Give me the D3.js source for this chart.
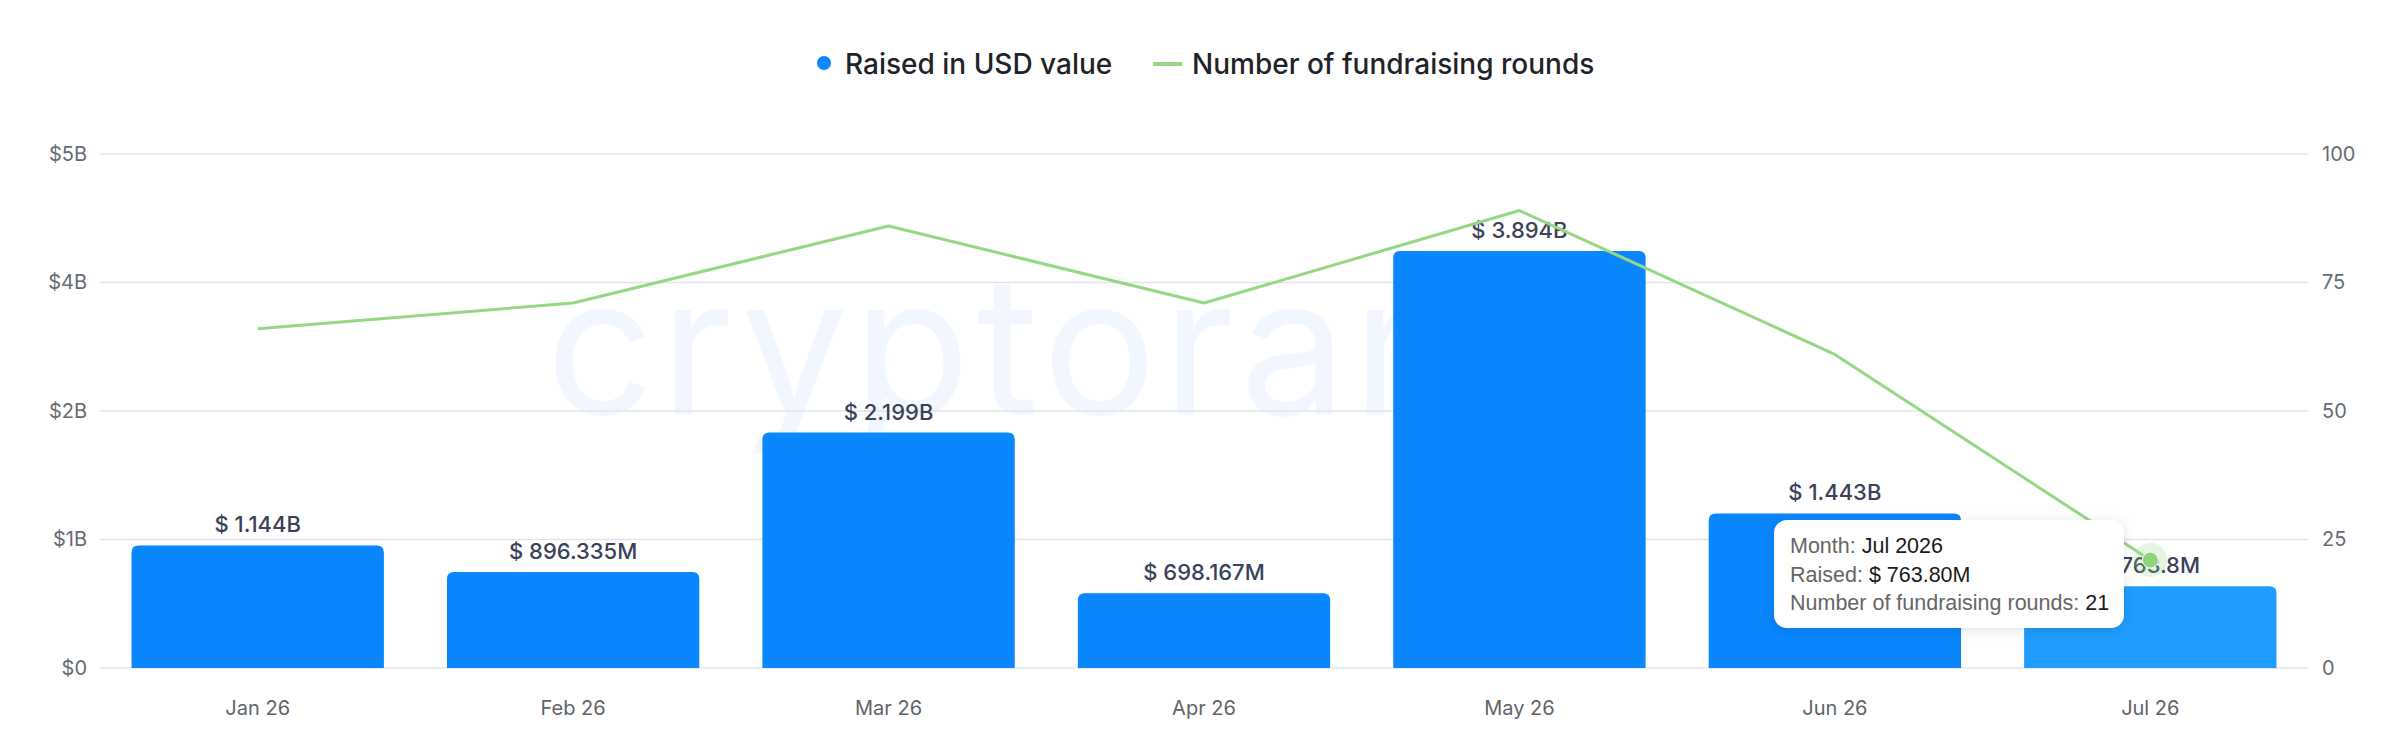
<!DOCTYPE html>
<html>
<head>
<meta charset="utf-8">
<script src="https://cdn.jsdelivr.net/npm/d3@7"></script>
<style>
  html, body { margin: 0; padding: 0; background: #ffffff; }
  svg { display: block; }
</style>
</head>
<body>
<svg id="chart" width="2403" height="741"></svg>
<script>
const months = ["Jan 26", "Feb 26", "Mar 26", "Apr 26", "May 26", "Jun 26", "Jul 26"];
const raisedUSD = [1144e6, 896.335e6, 2199e6, 698.167e6, 3894e6, 1443e6, 763.8e6];
const raisedLabels = ["$ 1.144B", "$ 896.335M", "$ 2.199B", "$ 698.167M", "$ 3.894B", "$ 1.443B", "$ 763.8M"];
const rounds = [66, 71, 86, 71, 89, 61, 21];
const leftTicks = [0, 1.2e9, 2.4e9, 3.6e9, 4.8e9];
const rightTicks = [0, 25, 50, 75, 100];
const seriesNames = ["Raised in USD value", "Number of fundraising rounds"];
const tooltipMonth = "Jul 2026";
const tooltipRaised = "$ 763.80M";
const hoverIndex = 6;

const svg = d3.select("#chart");
const plot = { left: 100, right: 2308, top: 154, bottom: 668 };

const x = d3.scaleBand().domain(months).range([plot.left, plot.right]).paddingInner(0.2).paddingOuter(0.1);
const yL = d3.scaleLinear().domain([0, 4.8e9]).range([plot.bottom, plot.top]);
const yR = d3.scaleLinear().domain([0, 100]).range([plot.bottom, plot.top]);

// watermark
svg.append("text")
  .attr("x", 546).attr("y", 414)
  .attr("font-family", "Inter, 'Noto Sans', sans-serif")
  .attr("font-weight", 400)
  .attr("font-size", 190)
  .attr("fill", "#f2f7ff")
  .attr("letter-spacing", 6)
  .text("cryptorank");

// gridlines
svg.append("g").selectAll("line").data(leftTicks).join("line")
  .attr("x1", plot.left).attr("x2", plot.right)
  .attr("y1", d => yL(d)).attr("y2", d => yL(d))
  .attr("stroke", "#e2e4e9").attr("stroke-width", 1.5);

// left axis
const fmtLeft = v => v === 0 ? "$0" : "$" + Math.round(v / 1e9) + "B";
const gL = svg.append("g").attr("transform", `translate(${plot.left - 13},0)`)
  .call(d3.axisLeft(yL).tickValues(leftTicks).tickFormat(fmtLeft).tickSize(0).tickPadding(0));
gL.select(".domain").remove();
gL.selectAll("text").attr("font-family", "Inter, sans-serif").attr("font-size", 20).attr("fill", "#676b72");

// right axis
const gR = svg.append("g").attr("transform", `translate(${plot.right + 14},0)`)
  .call(d3.axisRight(yR).tickValues(rightTicks).tickSize(0).tickPadding(0));
gR.select(".domain").remove();
gR.selectAll("text").attr("font-family", "Inter, sans-serif").attr("font-size", 20).attr("fill", "#676b72");

// x axis
const gX = svg.append("g").attr("transform", `translate(0,${plot.bottom})`)
  .call(d3.axisBottom(x).tickSize(0).tickPadding(33));
gX.select(".domain").remove();
gX.selectAll("text").attr("font-family", "Inter, sans-serif").attr("font-size", 20).attr("fill", "#5f6369");

// bars with rounded top corners
function barPath(x0, y0, w, h, r) {
  r = Math.min(r, h, w / 2);
  return `M${x0},${y0 + h}V${y0 + r}Q${x0},${y0} ${x0 + r},${y0}H${x0 + w - r}Q${x0 + w},${y0} ${x0 + w},${y0 + r}V${y0 + h}Z`;
}
svg.append("g").selectAll("path").data(raisedUSD).join("path")
  .attr("d", (d, i) => barPath(x(months[i]), yL(d), x.bandwidth(), yL(0) - yL(d), 7))
  .attr("fill", (d, i) => i === hoverIndex ? "#1f9cff" : "#0a86ff");

// bar labels
svg.append("g").selectAll("text").data(raisedLabels).join("text")
  .attr("x", (d, i) => x(months[i]) + x.bandwidth() / 2)
  .attr("y", (d, i) => yL(raisedUSD[i]) - 13)
  .attr("text-anchor", "middle")
  .attr("font-family", "Inter, sans-serif").attr("font-weight", 500)
  .attr("font-size", 22).attr("fill", "#3a4158")
  .text(d => d);

// line
const line = d3.line()
  .x((d, i) => x(months[i]) + x.bandwidth() / 2)
  .y(d => yR(d));
svg.append("path").datum(rounds)
  .attr("d", line).attr("fill", "none")
  .attr("stroke", "#95d884").attr("stroke-width", 3).attr("stroke-linejoin", "round");

// hover marker
const hx = x(months[hoverIndex]) + x.bandwidth() / 2, hy = yR(rounds[hoverIndex]);
svg.append("circle").attr("cx", hx).attr("cy", hy).attr("r", 17).attr("fill", "#95d884").attr("opacity", 0.25);
svg.append("circle").attr("cx", hx).attr("cy", hy).attr("r", 8).attr("fill", "#8fd37c").attr("stroke", "#ffffff").attr("stroke-width", 1);

// legend
const leg = svg.append("g");
leg.append("circle").attr("cx", 824).attr("cy", 63).attr("r", 7).attr("fill", "#0a86ff");
leg.append("text").attr("x", 845).attr("y", 74)
  .attr("font-family", "Inter, sans-serif").attr("font-weight", 500).attr("font-size", 28).attr("fill", "#1f2329")
  .text(seriesNames[0]);
leg.append("line").attr("x1", 1153).attr("x2", 1182).attr("y1", 64).attr("y2", 64)
  .attr("stroke", "#95d884").attr("stroke-width", 4);
leg.append("text").attr("x", 1192).attr("y", 74)
  .attr("font-family", "Inter, sans-serif").attr("font-weight", 500).attr("font-size", 28).attr("fill", "#1f2329")
  .text(seriesNames[1]);

// tooltip
const defs = svg.append("defs");
const f = defs.append("filter").attr("id", "shadow").attr("x", "-20%").attr("y", "-30%").attr("width", "140%").attr("height", "160%");
f.append("feDropShadow").attr("dx", 0).attr("dy", 2).attr("stdDeviation", 6).attr("flood-color", "#000").attr("flood-opacity", 0.12);
const tt = svg.append("g");
tt.append("rect").attr("x", 1774).attr("y", 520).attr("width", 350).attr("height", 108).attr("rx", 13)
  .attr("fill", "#ffffff").attr("filter", "url(#shadow)");
const ttLines = [
  ["Month: ", tooltipMonth],
  ["Raised: ", tooltipRaised],
  ["Number of fundraising rounds: ", String(rounds[hoverIndex])]
];
ttLines.forEach((l, i) => {
  const t = tt.append("text").attr("x", 1790).attr("y", 553 + i * 28.5)
    .attr("font-family", "'Liberation Sans', Arial, sans-serif").attr("font-size", 21.5);
  t.append("tspan").attr("fill", "#666666").text(l[0]);
  t.append("tspan").attr("fill", "#1a1a1a").text(l[1]);
});
</script>
</body>
</html>
